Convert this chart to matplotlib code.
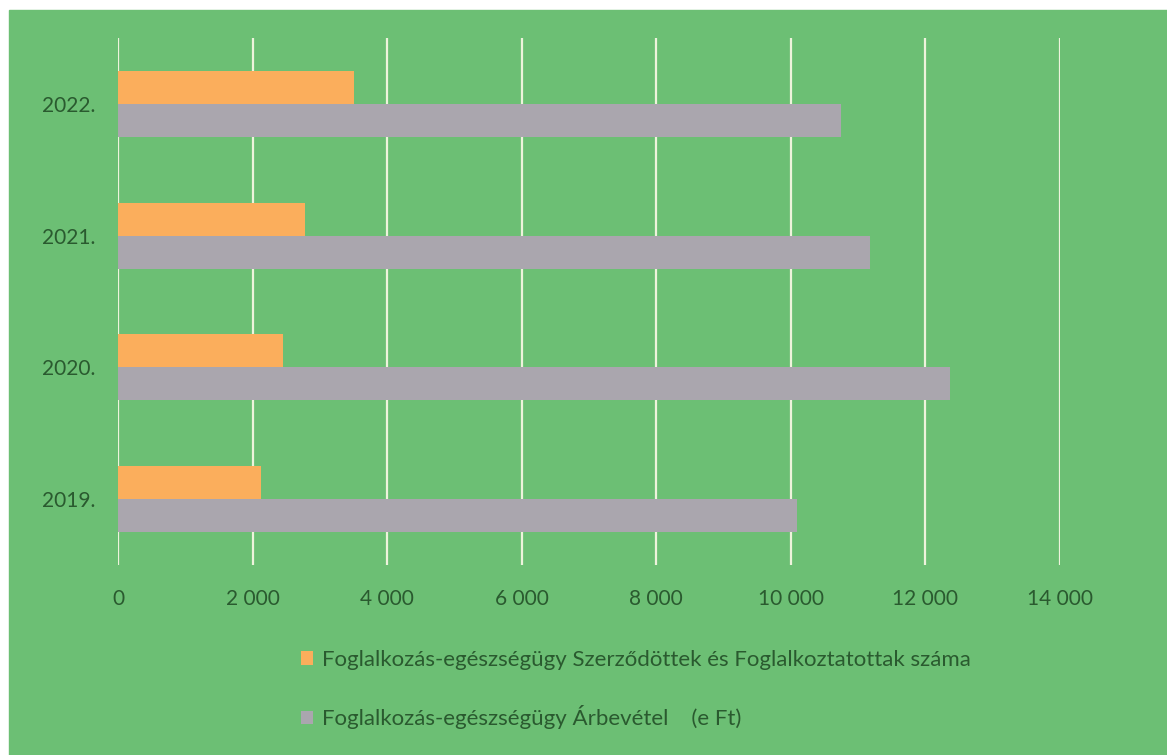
import numpy as np
import matplotlib.pyplot as plt
from matplotlib.patches import Rectangle
from matplotlib.ticker import FuncFormatter

# data
years = ['2019.', '2020.', '2021.', '2022.']
szerzodottek = [2125, 2450, 2780, 3505]       # orange series
arbevetel = [10090, 12360, 11175, 10745]      # grey series (e Ft)
xticks = [0, 2000, 4000, 6000, 8000, 10000, 12000, 14000]

label_orange = 'Foglalkozás-egészségügy Szerződöttek és Foglalkoztatottak száma'
label_grey = 'Foglalkozás-egészségügy Árbevétel    (e Ft)'

green = '#6cbf74'
orange = '#fbae5c'
grey = '#aaa6ae'
txt = '#2a5a2f'

plt.rcParams['font.family'] = ['Lato', 'DejaVu Sans']

fig = plt.figure(figsize=(11.67, 7.55), dpi=100)
fig.patch.set_facecolor('white')
# green panel (small white margin on left/top like the scan)
fig.patches.append(Rectangle((9 / 1167, 0), 1, 1 - 10 / 755,
                             transform=fig.transFigure, color=green, zorder=-10))

ax = fig.add_axes([118 / 1167, 1 - 565 / 755, (1060 - 118) / 1167, (565 - 38) / 755])
ax.set_facecolor('none')

y = np.arange(len(years))
h = 0.25
ax.barh(y + h / 2, szerzodottek, height=h, color=orange, label=label_orange, zorder=3)
ax.barh(y - h / 2, arbevetel, height=h, color=grey, label=label_grey, zorder=3)

ax.set_xlim(0, 14000)
ax.set_ylim(-0.5, 3.5)
ax.set_xticks(xticks)
ax.xaxis.set_major_formatter(FuncFormatter(lambda v, p: format(int(v), ',').replace(',', ' ')))
ax.set_yticks(y)
ax.set_yticklabels(years)

ax.grid(axis='x', color='#eef3dc', linewidth=1.6, zorder=1)
ax.tick_params(axis='both', length=0, labelsize=15, colors=txt)
ax.tick_params(axis='x', pad=17)
ax.tick_params(axis='y', pad=16.5)
for s in ax.spines.values():
    s.set_visible(False)

leg = fig.legend(loc='upper left', bbox_to_anchor=(281 / 1167, 1 - 630 / 755),
                 frameon=False, fontsize=16, labelcolor=txt,
                 handlelength=0.55, handleheight=0.55, handletextpad=0.4,
                 labelspacing=1.58)

plt.savefig('out.png', dpi=100, facecolor=fig.get_facecolor())
